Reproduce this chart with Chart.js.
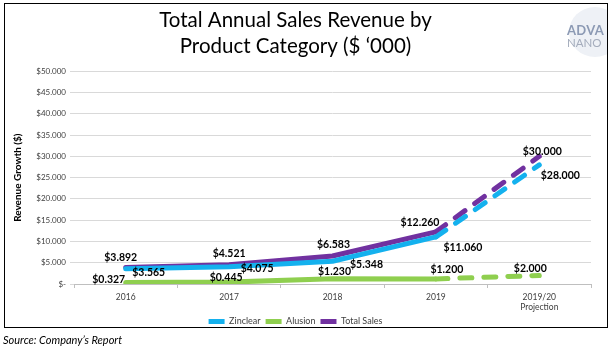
<!DOCTYPE html>
<html>
<head>
<meta charset="utf-8">
<script src="https://cdn.jsdelivr.net/npm/chart.js@4.4.1/dist/chart.umd.min.js"></script>
<style>
  html, body { margin: 0; padding: 0; background: #fff; }
  #wrap { position: relative; width: 615px; height: 350px; overflow: hidden; }
  #c { position: absolute; left: 0; top: 0; }
  #frame { position: absolute; left: 4px; top: 3px; width: 602px; height: 323px; border: 1.5px solid #000; pointer-events: none; overflow: hidden; }
  #logo { position: absolute; left: 556px; top: 7px; width: 60px; height: 45px; }
  #logo .bub { position: absolute; left: 8px; top: -4px; width: 52px; height: 50px; border-radius: 50%; background: #eef1f6; }
  #logo .a { position: absolute; left: 6px; top: 11px; font: bold 13px Lato, sans-serif; color: #8c9ab4; letter-spacing: 0.3px; }
  #logo .n { position: absolute; left: 6px; top: 25px; font: 11.5px Lato, sans-serif; color: #a4acbc; }
  #src { position: absolute; left: 3px; top: 333px; font: italic 11px Lato, sans-serif; color: #000; }
</style>
</head>
<body>
<div id="wrap">
  <canvas id="c" width="615" height="336"></canvas>
  <div id="frame"><div id="logo"><div class="bub"></div><div class="a">ADVA</div><div class="n">NANO</div></div></div>
  <div id="src">Source: Company’s Report</div>
</div>
<script>
const categories = ["2016", "2017", "2018", "2019", ["2019/20", "Projection"]];
const zinclear = [3565, 4075, 5348, 11060, 28000];
const alusion = [327, 445, 1230, 1200, 2000];
const totalSales = [3892, 4521, 6583, 12260, 30000];
const seriesNames = ["Zinclear", "Alusion", "Total Sales"];
const yTicks = [0, 5000, 10000, 15000, 20000, 25000, 30000, 35000, 40000, 45000, 50000];

function fmt(v) {
  if (v === 0) return "$-";
  const th = Math.floor(v / 1000);
  const rest = String(Math.round(v % 1000)).padStart(3, "0");
  return "$" + th + "." + rest;
}

// label offsets (dx, dy) relative to each point, per dataset
const labelOffsets = [
  [[23, 4], [28, 2], [34, 3], [27, 11], [21, 11]],
  [[-17, -3], [-3, -4], [2, -7], [11, -9], [-9, -7]],
  [[-5, -10], [0, -11], [1, -11], [-16, -9], [3, -5]]
];

const labelPlugin = {
  id: "valueLabels",
  afterDatasetsDraw(chart) {
    const ctx = chart.ctx;
    ctx.save();
    ctx.font = "bold 10.5px Lato, sans-serif";
    ctx.fillStyle = "#000";
    ctx.textAlign = "center";
    ctx.textBaseline = "middle";
    chart.data.datasets.forEach((ds, i) => {
      const meta = chart.getDatasetMeta(i);
      meta.data.forEach((pt, j) => {
        const off = labelOffsets[i][j];
        ctx.fillText(fmt(ds.data[j]), pt.x + off[0], pt.y + off[1]);
      });
    });
    ctx.restore();
  }
};

const dashSeg = { borderDash: c => c.p0DataIndex === 3 ? [12, 12] : undefined };

function mk(label, data, color) {
  return {
    label, data,
    borderColor: color, backgroundColor: color,
    borderWidth: 5, borderCapStyle: "round", borderJoinStyle: "round",
    pointRadius: 0, pointHoverRadius: 0, tension: 0, fill: false,
    segment: dashSeg
  };
}

new Chart(document.getElementById("c"), {
  type: "line",
  data: {
    labels: categories,
    datasets: [
      mk(seriesNames[0], zinclear, "#14b1ee"),
      mk(seriesNames[1], alusion, "#8fcf4f"),
      mk(seriesNames[2], totalSales, "#7131a0")
    ]
  },
  options: {
    responsive: false,
    devicePixelRatio: 1,
    animation: false,
    layout: { padding: { left: 0, right: 24, top: 0, bottom: 0 } },
    plugins: {
      tooltip: { enabled: false },
      title: {
        display: true,
        text: ["Total Annual Sales Revenue by", "Product Category ($ ‘000)"],
        font: { family: "Lato, sans-serif", size: 20.5, weight: "normal", lineHeight: 1.25 },
        color: "#000",
        padding: { top: 8, bottom: 12 }
      },
      legend: {
        position: "bottom",
        labels: {
          usePointStyle: true,
          pointStyle: "line",
          pointStyleWidth: 16,
          boxHeight: 6,
          padding: 5,
          font: { family: "Lato, sans-serif", size: 9 },
          color: "#404040"
        }
      }
    },
    scales: {
      x: {
        offset: true,
        grid: { offset: true, drawOnChartArea: false, tickLength: 4, color: "#bfbfbf" },
        border: { color: "#bfbfbf", width: 1 },
        ticks: { font: { family: "Lato, sans-serif", size: 8.5 }, color: "#404040", padding: 4, maxRotation: 0 },
        afterFit(s) { s.height = 28; }
      },
      y: {
        min: 0, max: 50000,
        afterBuildTicks(s) { s.ticks = yTicks.map(v => ({ value: v })); },
        grid: { color: "#d9d9d9", tickLength: 4, drawTicks: true },
        border: { display: false },
        ticks: { callback: v => fmt(v), font: { family: "Lato, sans-serif", size: 8 }, color: "#404040", padding: 4 },
        title: {
          display: true, text: "Revenue Growth ($)",
          font: { family: "Lato, sans-serif", size: 10, weight: "bold" },
          color: "#000", padding: { top: 12, bottom: 0 }
        },
        afterFit(s) { s.width = 74; }
      }
    }
  },
  plugins: [labelPlugin]
});
</script>
</body>
</html>
